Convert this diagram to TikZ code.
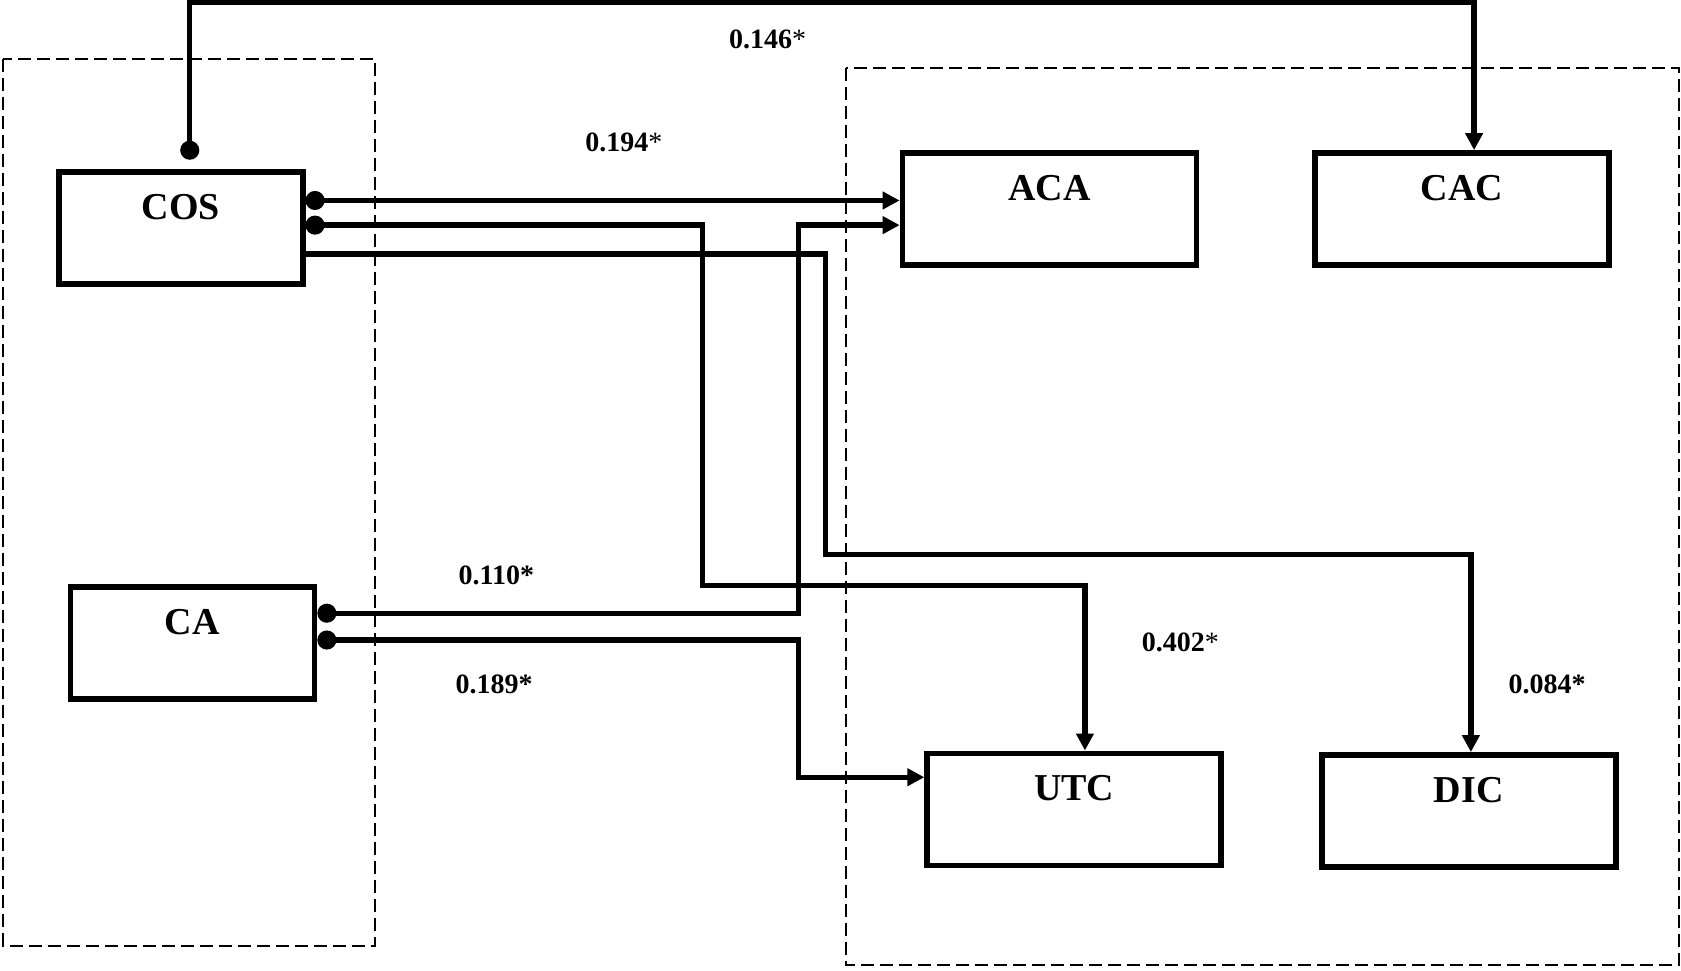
\documentclass[tikz,border=0pt]{standalone}
\usepackage{fontspec}
\setmainfont{Liberation Serif}
\usetikzlibrary{arrows.meta,positioning}

\tikzset{
  var/.style={draw,line width=2.9pt,minimum width=#1,minimum height=56pt,inner sep=0pt,
    text height=14pt,text depth=23pt,font=\fontsize{19}{22}\selectfont\bfseries},
  link/.style={line width=2.7pt,-{Triangle[length=8.5pt,width=8.5pt]}},
  dotlink/.style={link,{Circle[length=9.5pt]}-{Triangle[length=8.5pt,width=8.5pt]}},
  coef/.style={font=\fontsize{14}{17}\selectfont\bfseries},
  group/.style={draw,line width=1pt,dash pattern=on 6.5pt off 3pt}
}

\begin{document}
\begin{tikzpicture}[x=0.536pt,y=-0.536pt]
  \useasboundingbox (0,0) rectangle (1568,905);

  % dashed groups
  \draw[group] (3,55) rectangle (350,882);
  \draw[group] (789,63) rectangle (1566,900);

  % variables
  \node[var=122pt] (COS) at (168.5,213) {COS};
  \node[var=122pt] (CA) at (179.5,600) {CA};
  \node[var=147pt] (ACA) at (979,195) {ACA};
  \node[var=147pt] (CAC) at (1363.5,195) {CAC};
  \node[var=147pt] (UTC) at (1002,755) {UTC};
  \node[var=147pt] (DIC) at (1370,756.5) {DIC};

  % rows and columns of the links
  \coordinate (r1) at (0,187);
  \coordinate (r2) at (0,210);
  \coordinate (r3) at (0,237);
  \coordinate (r4) at (0,572);
  \coordinate (r5) at (0,597);
  \coordinate (r6) at (0,725);
  \coordinate (c4) at (1012,0);
  \coordinate (c5) at (1372,0);
  \coordinate (c6) at (1375,0);
  \coordinate (top) at (177,149);

  \draw[dotlink] (top) -- (177,2) -- (1375,2) -- (CAC.north -| c6);
  \draw[dotlink] (COS.east |- r1) -- (ACA.west |- r1);
  \draw[dotlink] (COS.east |- r2) -| (655,546) -| (UTC.north -| c4);
  \draw[link] (COS.east |- r3) -| (770,517) -| (DIC.north -| c5);
  \draw[dotlink] (CA.east |- r4) -| (745,210) -- (ACA.west |- r2);
  \draw[dotlink] (CA.east |- r5) -| (745,725) -- (UTC.west |- r6);

  % coefficients
  \node[coef] (k146) at (716,37) {0.146\textmd{*}};
  \node[coef] (k194) at (582,133) {0.194\textmd{*}};
  \node[coef] (k110) at (463,537) {0.110*};
  \node[coef] (k189) at (461,638) {0.189*};
  \node[coef] (k402) at (1101,599) {0.402\textmd{*}};
  \node[coef] (k084) at (1443,638) {0.084*};
\end{tikzpicture}
\end{document}
